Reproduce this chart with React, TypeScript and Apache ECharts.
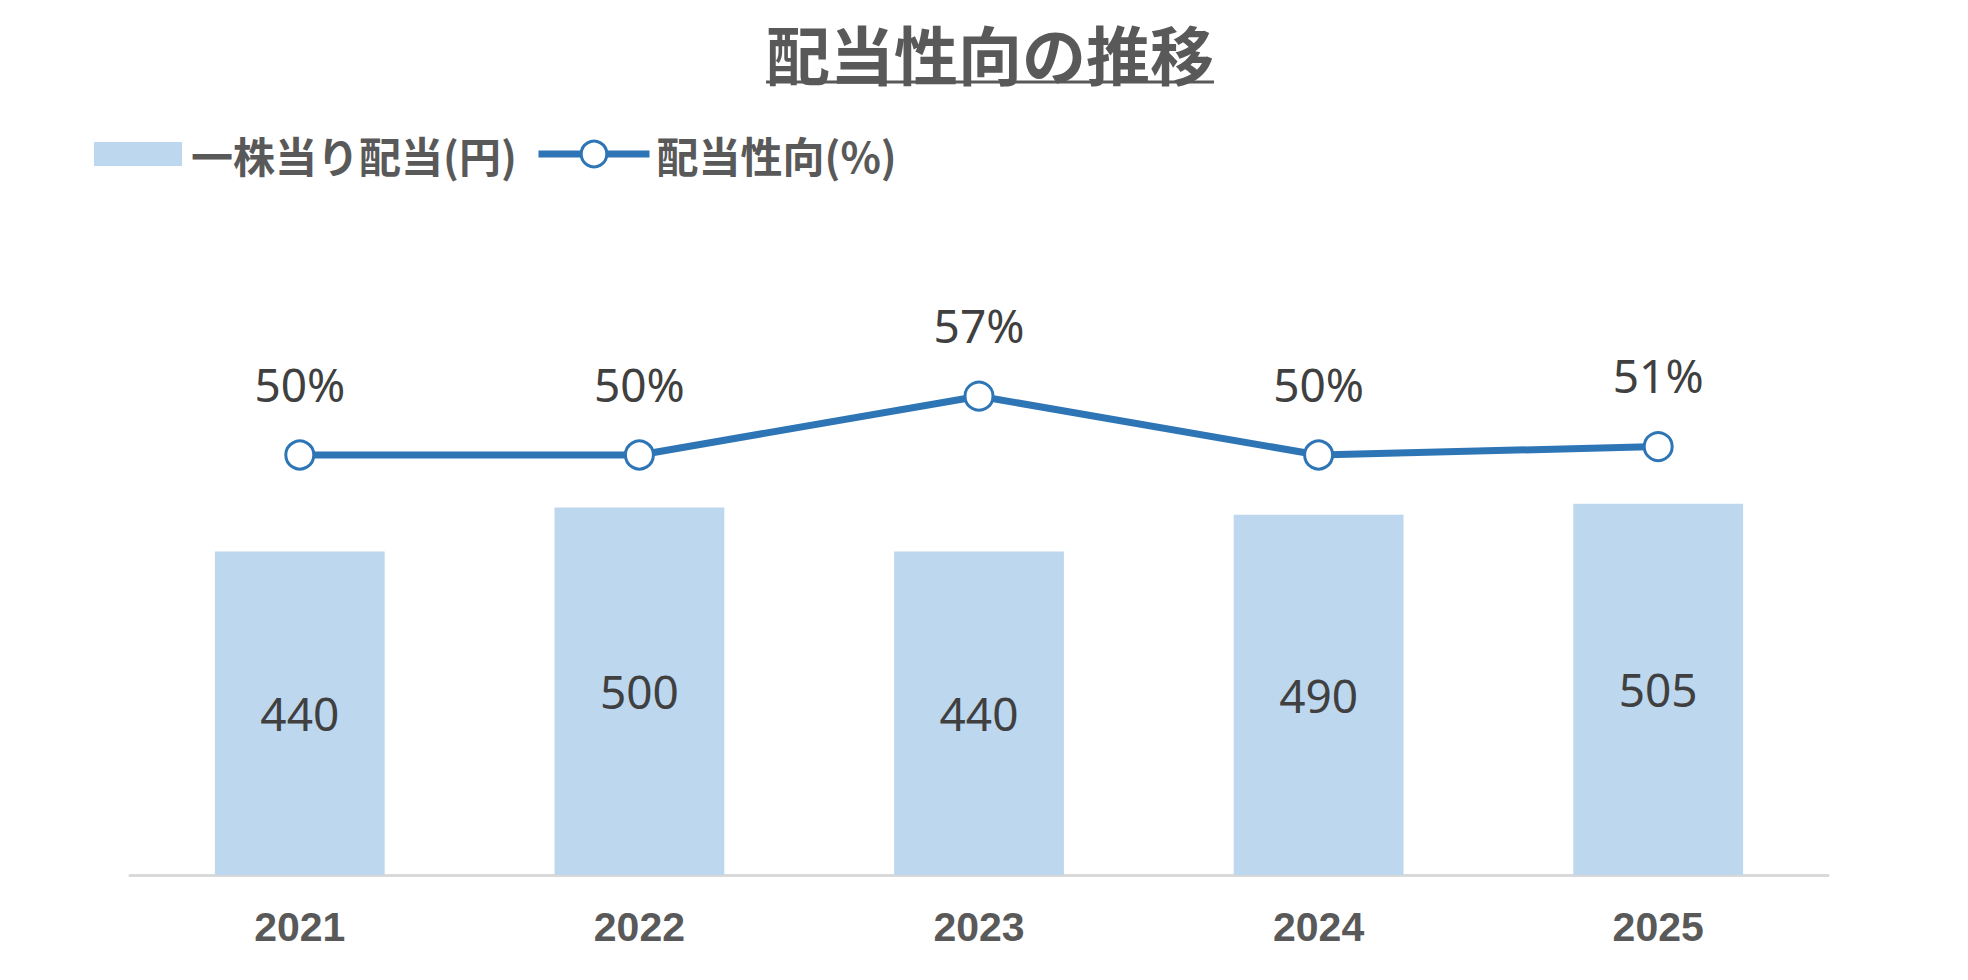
import React, { useEffect, useRef } from "react";
import * as echarts from "echarts";

const categories = ["2021", "2022", "2023", "2024", "2025"];
const dividendPerShare = [440, 500, 440, 490, 505];
const payoutRatio = [50, 50, 57, 50, 51];
const barName = "一株当り配当(円)";
const lineName = "配当性向(%)";
const titleText = "配当性向の推移";

const CJK = "'Noto Sans CJK JP', 'Noto Sans', sans-serif";
const NUM = "'Noto Sans', 'Open Sans', sans-serif";

export default function App() {
  const ref = useRef<HTMLDivElement>(null);
  useEffect(() => {
    if (!ref.current) return;
    const chart = echarts.init(ref.current, undefined, { renderer: "svg" });
    chart.setOption({
      animation: false,
      backgroundColor: "#ffffff",
      graphic: [
        {
          type: "text",
          x: 990,
          y: 52,
          style: {
            text: titleText,
            fontFamily: CJK,
            fontWeight: "bold",
            fontSize: 64,
            fill: "#595959",
            textAlign: "center",
            textVerticalAlign: "middle",
          },
        },
        {
          type: "line",
          shape: { x1: 766, y1: 82, x2: 1214, y2: 82 },
          style: { stroke: "#595959", lineWidth: 3 },
        },
      ],
      legend: [
        {
          data: [{ name: barName, icon: "rect" }],
          left: 94,
          top: 133,
          padding: 0,
          itemWidth: 88,
          itemHeight: 24,
          textStyle: {
            fontFamily: CJK,
            fontWeight: "bold",
            fontSize: 42,
            color: "#595959",
            padding: [0, 0, 0, 4],
          },
          selectedMode: false,
        },
        {
          data: [lineName],
          left: 535,
          top: 133,
          padding: 0,
          itemWidth: 111,
          itemHeight: 32,
          lineStyle: { width: 7, color: "#2E75B6" },
          itemStyle: { color: "#ffffff", borderColor: "#2E75B6", borderWidth: 3 },
          textStyle: {
            fontFamily: CJK,
            fontWeight: "bold",
            fontSize: 42,
            color: "#595959",
            padding: [0, 0, 0, 2],
          },
          selectedMode: false,
        },
      ],
      grid: { left: 130, right: 140, top: 287, bottom: 105 },
      xAxis: {
        type: "category",
        data: categories,
        axisTick: { show: false },
        axisLine: { lineStyle: { color: "#d9d9d9", width: 3 } },
        axisLabel: {
          margin: 31,
          fontFamily: "'Liberation Sans Narrow', 'Arial Narrow', 'Liberation Sans', sans-serif",
          fontWeight: "bold",
          fontSize: 41,
          color: "#595959",
        },
      },
      yAxis: [
        { type: "value", min: 0, max: 800, show: false, splitLine: { show: false } },
        { type: "value", min: 0, max: 70, show: false, splitLine: { show: false } },
      ],
      series: [
        {
          name: barName,
          type: "bar",
          data: dividendPerShare,
          barWidth: "50%",
          itemStyle: { color: "#BDD7EE" },
          label: {
            show: true,
            position: "inside",
            fontFamily: NUM,
            fontSize: 46,
            color: "#404040",
          },
        },
        {
          name: lineName,
          type: "line",
          yAxisIndex: 1,
          data: payoutRatio,
          symbol: "circle",
          symbolSize: 28,
          lineStyle: { color: "#2E75B6", width: 7 },
          itemStyle: { color: "#ffffff", borderColor: "#2E75B6", borderWidth: 3 },
          label: {
            show: true,
            position: "top",
            distance: 33,
            fontFamily: NUM,
            fontSize: 46,
            color: "#404040",
            formatter: (p: any) => p.value + "%",
          },
        },
      ],
    });
    return () => chart.dispose();
  }, []);
  return (
    <div
      ref={ref}
      style={{ position: "fixed", left: 0, top: 0, width: 1968, height: 980 }}
    />
  );
}
